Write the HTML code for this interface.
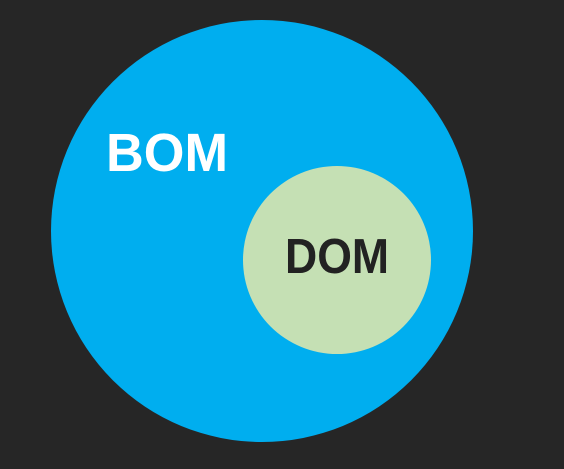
<!DOCTYPE html>
<html><head><style>
html,body{margin:0;padding:0;background:#262626;}
</style></head><body>
<svg width="564" height="469" xmlns="http://www.w3.org/2000/svg" style="display:block">
<rect width="564" height="469" fill="#262626"/>
<circle cx="262" cy="231" r="211" fill="#00AEEF"/>
<circle cx="337" cy="260" r="94" fill="#C5E0B4"/>
<text x="106" y="171" font-family="Liberation Sans, sans-serif" font-weight="bold" font-size="54" fill="#fff" textLength="122" lengthAdjust="spacingAndGlyphs">BOM</text>
<text x="285" y="273" font-family="Liberation Sans, sans-serif" font-weight="bold" font-size="49" fill="#222" textLength="104" lengthAdjust="spacingAndGlyphs">DOM</text>
</svg>
</body></html>
